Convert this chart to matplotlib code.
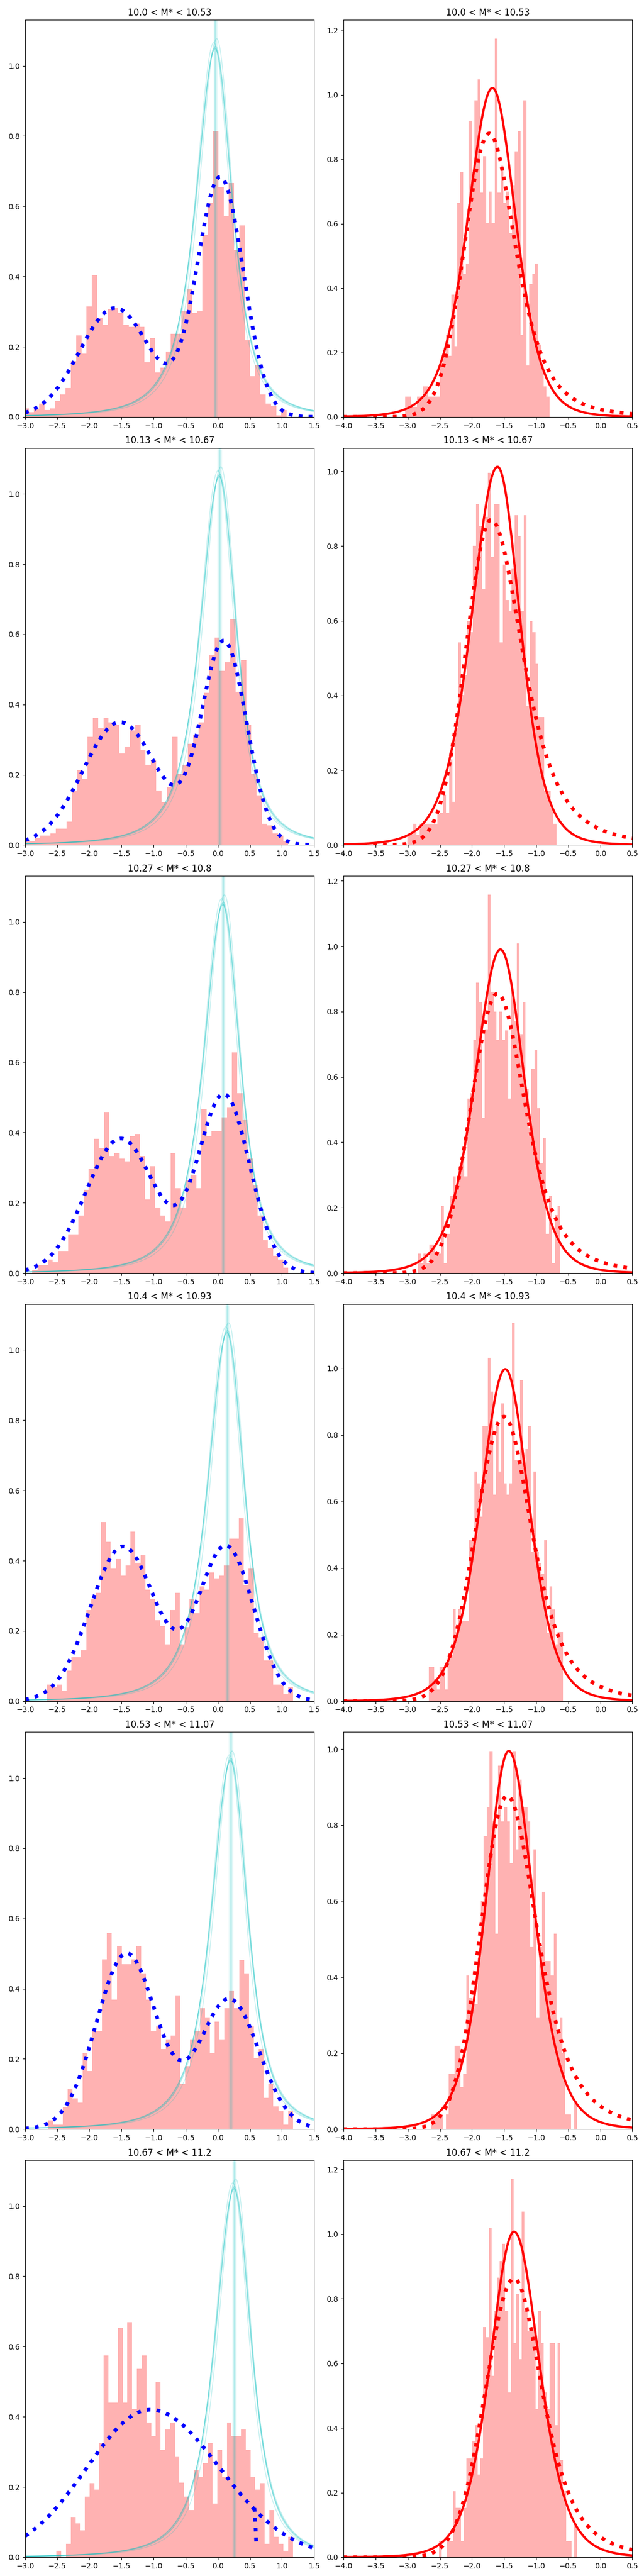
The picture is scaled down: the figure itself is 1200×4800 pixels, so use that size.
import numpy as np
import matplotlib
matplotlib.use("Agg")
import matplotlib.pyplot as plt

# ---------- data ----------

titles = ["10.0 < M* < 10.53", "10.13 < M* < 10.67", "10.27 < M* < 10.8",
          "10.4 < M* < 10.93", "10.53 < M* < 11.07", "10.67 < M* < 11.2"]

# left column: histogram bin range (50 bins each) and densities
left_lo = [-3.026, -3.016, -2.887, -2.662, -2.640, -2.511]
left_hi = [1.075, 1.101, 1.101, 1.172, 1.172, 1.172]

left_h1 = [0.025, 0.013, 0.021, 0.038, 0.02, 0.025, 0.045, 0.064, 0.083, 0.158,
           0.232, 0.18, 0.314, 0.403, 0.283, 0.263, 0.307, 0.31, 0.296, 0.263,
           0.257, 0.265, 0.257, 0.155, 0.225, 0.127, 0.141, 0.186, 0.237, 0.237,
           0.301, 0.364, 0.296, 0.301, 0.518, 0.61, 0.814, 0.654, 0.571, 0.666,
           0.475, 0.545, 0.218, 0.116, 0.148, 0.064, 0.038, 0.032, 0.005, 0.02]
left_h2 = [0.012, 0.012, 0.02, 0.027, 0.027, 0.033, 0.047, 0.047, 0.066, 0.155,
           0.213, 0.188, 0.308, 0.361, 0.334, 0.361, 0.349, 0.341, 0.261, 0.28,
           0.327, 0.341, 0.272, 0.228, 0.241, 0.155, 0.121, 0.166, 0.308, 0.202,
           0.228, 0.288, 0.314, 0.349, 0.433, 0.542, 0.59, 0.496, 0.521, 0.643,
           0.437, 0.527, 0.341, 0.202, 0.141, 0.06, 0.055, 0.033, 0.027, 0.012]
left_h3 = [0.008, 0.023, 0.023, 0.038, 0.031, 0.063, 0.063, 0.11, 0.11, 0.163,
           0.237, 0.296, 0.382, 0.356, 0.458, 0.334, 0.341, 0.326, 0.318, 0.39,
           0.396, 0.334, 0.21, 0.304, 0.186, 0.164, 0.147, 0.341, 0.241, 0.186,
           0.265, 0.28, 0.241, 0.466, 0.39, 0.403, 0.403, 0.443, 0.473, 0.629,
           0.512, 0.435, 0.326, 0.249, 0.163, 0.094, 0.071, 0.049, 0.039, 0.016]
left_h4 = [0.047, 0.039, 0.047, 0.029, 0.086, 0.125, 0.125, 0.145, 0.26, 0.29,
           0.309, 0.51, 0.454, 0.377, 0.404, 0.357, 0.386, 0.483, 0.394, 0.415,
           0.318, 0.29, 0.231, 0.213, 0.162, 0.26, 0.309, 0.162, 0.21, 0.29,
           0.25, 0.327, 0.318, 0.367, 0.349, 0.357, 0.386, 0.463, 0.463, 0.521,
           0.329, 0.377, 0.194, 0.182, 0.115, 0.115, 0.047, 0.047, 0.019, 0.039]
left_h5 = [0.025, 0.012, 0.012, 0.063, 0.114, 0.088, 0.076, 0.216, 0.165, 0.279,
           0.279, 0.483, 0.559, 0.369, 0.522, 0.47, 0.47, 0.483, 0.522, 0.443,
           0.369, 0.28, 0.292, 0.229, 0.255, 0.267, 0.381, 0.129, 0.18, 0.255,
           0.279, 0.345, 0.318, 0.216, 0.306, 0.255, 0.345, 0.394, 0.345, 0.482,
           0.443, 0.292, 0.203, 0.229, 0.089, 0.129, 0.064, 0.051, 0.012, 0.051]
left_h6 = [0.019, 0.0, 0.038, 0.114, 0.096, 0.076, 0.173, 0.211, 0.192, 0.325,
           0.575, 0.44, 0.44, 0.652, 0.44, 0.67, 0.421, 0.536, 0.575, 0.384,
           0.345, 0.498, 0.306, 0.364, 0.384, 0.287, 0.212, 0.173, 0.135, 0.249,
           0.229, 0.268, 0.325, 0.153, 0.306, 0.229, 0.384, 0.345, 0.345, 0.364,
           0.306, 0.229, 0.192, 0.211, 0.038, 0.135, 0.058, 0.038, 0.019, 0.058]
left_heights = [left_h1, left_h2, left_h3, left_h4, left_h5, left_h6]

# right column: histogram bin range and densities (empty bins on the left)
right_lo = [-4.022, -4.022, -4.022, -4.013, -4.042, -4.018]
right_hi = [-0.793, -0.685, -0.620, -0.579, -0.363, -0.363]

right_h1 = ([0.006] + [0.0] * 21 +
            [0.063, 0.063, 0.032, 0.032, 0.063, 0.063, 0.095, 0.095, 0.063, 0.063,
             0.063, 0.063, 0.16, 0.19, 0.255, 0.19, 0.38, 0.22, 0.665, 0.76,
             0.445, 0.477, 0.92, 0.76, 0.983, 1.047, 0.697, 0.81, 0.603, 0.70,
             0.603, 1.174, 0.697, 0.78, 0.665, 0.70, 0.571, 0.72, 0.825, 0.888,
             0.255, 0.983, 0.16, 0.413, 0.445, 0.477, 0.224, 0.16, 0.095, 0.063])
right_h2 = ([0.005] + [0.0] * 21 +
            [0.027, 0.027, 0.057, 0.027, 0.057, 0.057, 0.057, 0.057, 0.057, 0.057,
             0.082, 0.086, 0.134, 0.086, 0.229, 0.115, 0.314, 0.542, 0.402, 0.454,
             0.599, 0.57, 0.80, 0.913, 0.854, 0.684, 0.878, 0.996, 0.77, 0.913,
             0.913, 0.542, 0.75, 0.656, 0.626, 0.74, 0.882, 0.826, 0.626, 0.882,
             0.373, 0.599, 0.57, 0.485, 0.342, 0.342, 0.145, 0.145, 0.10, 0.057])
right_h3 = ([0.005] + [0.0] * 25 +
            [0.059, 0.03, 0.059, 0.03, 0.088, 0.088, 0.059, 0.059, 0.206, 0.03,
             0.12, 0.237, 0.296, 0.27, 0.325, 0.35, 0.296, 0.534, 0.55, 0.712,
             0.889, 0.83, 0.475, 0.746, 1.157, 0.86, 0.80, 0.712, 0.80, 0.712,
             0.742, 0.534, 0.86, 0.771, 1.008, 0.73, 0.83, 0.563, 0.445, 0.624,
             0.681, 0.505, 0.336, 0.414, 0.12, 0.237, 0.03, 0.177, 0.206])
right_h4 = ([0.005] + [0.0] * 31 +
            [0.103, 0.103, 0.068, 0.035, 0.103, 0.103, 0.035, 0.138, 0.138, 0.277,
             0.208, 0.277, 0.24, 0.24, 0.24, 0.483, 0.483, 0.69, 0.655, 0.554,
             0.827, 0.827, 1.033, 0.931, 0.62, 0.827, 0.69, 0.895, 0.655, 0.62,
             0.655, 1.137, 0.724, 0.724, 0.965, 0.70, 0.758, 0.827, 0.448, 0.69,
             0.448, 0.414, 0.382, 0.483, 0.204, 0.345, 0.276, 0.171, 0.208, 0.208])
right_h5 = ([0.005] + [0.0] * 30 +
            [0.038, 0.038, 0.038, 0.038, 0.0, 0.038, 0.146, 0.146, 0.22, 0.22,
             0.11, 0.146, 0.405, 0.345, 0.33, 0.33, 0.45, 0.60, 0.772, 0.847,
             0.994, 0.81, 0.515, 0.957, 0.81, 0.847, 0.81, 0.70, 0.994, 0.736,
             0.92, 0.847, 0.847, 0.81, 0.479, 0.736, 0.294, 0.479, 0.625, 0.443,
             0.443, 0.405, 0.515, 0.258, 0.294, 0.20, 0.038, 0.038, 0.0, 0.074])
right_h6 = ([0.005] + [0.0] * 34 +
            [0.05, 0.0, 0.0, 0.05, 0.05, 0.204, 0.152, 0.152, 0.05, 0.152,
             0.306, 0.306, 0.36, 0.408, 0.255, 0.306, 0.713, 0.68, 1.019, 0.561,
             0.762, 0.865, 0.917, 0.969, 0.762, 0.51, 1.17, 0.662, 0.815, 0.612,
             1.069, 0.762, 0.70, 0.70, 0.713, 0.459, 0.762, 0.662, 0.509, 0.459,
             0.662, 0.662, 0.408, 0.662, 0.30, 0.204, 0.05, 0.05, 0.0, 0.102])
right_heights = [right_h1, right_h2, right_h3, right_h4, right_h5, right_h6]

# cyan model samples (left column): centre per row, per-sample tweaks
cyan_mu = [-0.04, 0.025, 0.08, 0.145, 0.20, 0.255]
cyan_dmu = [0.0, 0.004, -0.004, 0.008, -0.02, 0.025]
cyan_amp = [1.048, 1.05, 1.052, 1.056, 1.066, 1.077]
cyan_wscale = [1.0, 1.01, 0.99, 0.98, 0.95, 0.93]
CYAN_WL, CYAN_WR, CYAN_NU = 0.33, 0.29, 2.0

# blue two-component fit (left column)
blue_a1 = [0.31, 0.35, 0.383, 0.44, 0.50, 0.42]
blue_mu1 = [-1.60, -1.52, -1.51, -1.475, -1.42, -1.05]
blue_wl1 = [0.55, 0.58, 0.54, 0.51, 0.47, 0.99]
blue_wr1 = [0.55, 0.58, 0.54, 0.51, 0.47, 1.08]
blue_a2 = [0.68, 0.575, 0.505, 0.44, 0.37, 0.0]
blue_mu2 = [0.04, 0.10, 0.10, 0.13, 0.18, 0.0]
blue_s2 = [0.36, 0.35, 0.40, 0.43, 0.46, 1.0]
# short extra segment of the last blue curve
hook_x = [0.57, 0.58, 0.585, 0.59, 0.595, 0.60]
hook_y = [0.14, 0.125, 0.10, 0.08, 0.06, 0.04]

# red solid fit (right column)
red_amp = [1.021, 1.012, 0.99, 0.998, 0.995, 1.007]
red_mu = [-1.68, -1.60, -1.555, -1.48, -1.426, -1.343]
red_wl = [0.40, 0.42, 0.41, 0.40, 0.37, 0.385]
red_wr = [0.375, 0.36, 0.385, 0.38, 0.40, 0.405]
RED_NU = 6.0

# red dotted fit (right column)
dot_amp = [0.88, 0.87, 0.855, 0.855, 0.877, 0.862]
dot_mu = [-1.73, -1.70, -1.60, -1.50, -1.45, -1.343]
dot_wl = [0.385, 0.39, 0.41, 0.44, 0.41, 0.44]
dot_wr = [0.44, 0.52, 0.465, 0.467, 0.50, 0.47]
DOT_NU_R = 3.0


# ---------- helpers ----------

def side(z, nu):
    if nu is None:
        return np.exp(-0.5 * z ** 2)
    return (1 + z ** 2 / nu) ** (-(nu + 1) / 2)


def peak(x, amp, mu, wl, wr, nul=None, nur=None):
    return amp * np.where(x < mu, side((x - mu) / wl, nul), side((x - mu) / wr, nur))


def draw_hist(ax, lo, hi, heights):
    edges = np.linspace(lo, hi, len(heights) + 1)
    centres = 0.5 * (edges[:-1] + edges[1:])
    ax.hist(centres, bins=edges, weights=heights, color="red", alpha=0.3)


# ---------- figure ----------

fig, axes = plt.subplots(6, 2, figsize=(12, 48), dpi=100)
fig.subplots_adjust(left=0.039, right=0.982, top=0.9923, bottom=0.0073,
                    wspace=0.102, hspace=0.078)

xl = np.linspace(-3.0, 1.5, 600)
xr = np.linspace(-4.0, 0.5, 600)

for i in range(6):
    axl, axr = axes[i]

    # left: colour distribution, two-population fit, model samples
    draw_hist(axl, left_lo[i], left_hi[i], left_heights[i])
    for dm, a, ws in zip(cyan_dmu, cyan_amp, cyan_wscale):
        mu = cyan_mu[i] + dm
        axl.plot(xl, peak(xl, a, mu, CYAN_WL * ws, CYAN_WR * ws, CYAN_NU, CYAN_NU),
                 color="c", alpha=0.22, lw=1.1)
        axl.axvline(mu, color="c", alpha=0.09, lw=2)
    blue = (peak(xl, blue_a1[i], blue_mu1[i], blue_wl1[i], blue_wr1[i]) +
            peak(xl, blue_a2[i], blue_mu2[i], blue_s2[i], blue_s2[i]))
    axl.plot(xl, blue, color="blue", ls=":", lw=5)
    if i == 5:
        axl.plot(hook_x, hook_y, color="blue", ls=":", lw=5)
    axl.set_xlim(-3.0, 1.5)
    axl.set_title(titles[i])

    # right: red population
    draw_hist(axr, right_lo[i], right_hi[i], right_heights[i])
    axr.plot(xr, peak(xr, red_amp[i], red_mu[i], red_wl[i], red_wr[i], RED_NU, RED_NU),
             color="red", lw=3)
    axr.plot(xr, peak(xr, dot_amp[i], dot_mu[i], dot_wl[i], dot_wr[i], None, DOT_NU_R),
             color="red", ls=":", lw=5)
    axr.set_xlim(-4.0, 0.5)
    axr.set_title(titles[i])

fig.savefig("out.png")
